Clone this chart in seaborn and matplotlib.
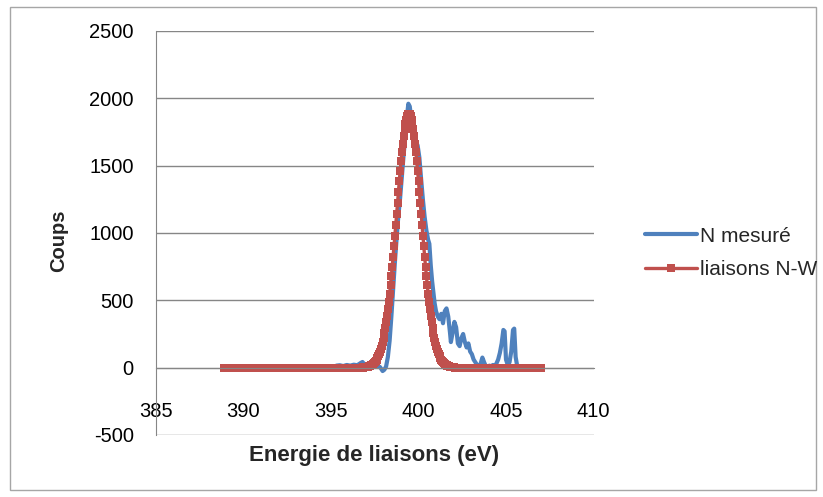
import numpy as np
import pandas as pd
import matplotlib.pyplot as plt
import seaborn as sns
from matplotlib.patches import Rectangle

# measured N 1s spectrum
mesure_ev = [395.3, 395.5, 395.7, 395.9, 396.1, 396.3, 396.5, 396.7, 396.8, 396.9,
             397.0, 397.2, 397.4, 397.6, 397.8, 397.95, 398.05, 398.15, 398.25, 398.35,
             398.45, 398.55, 398.65, 398.75, 398.85, 398.95, 399.05, 399.15, 399.25, 399.35,
             399.42, 399.5, 399.58, 399.66, 399.75, 399.85, 399.95, 400.05, 400.15, 400.25,
             400.35, 400.45, 400.55, 400.62, 400.7, 400.78, 400.85, 400.92, 401.0, 401.1,
             401.2, 401.3, 401.4, 401.5, 401.6, 401.7, 401.8, 401.85, 401.95, 402.05,
             402.15, 402.25, 402.35, 402.45, 402.55, 402.65, 402.75, 402.85, 402.95, 403.05,
             403.15, 403.25, 403.35, 403.45, 403.55, 403.65, 403.75, 403.85, 403.95, 404.05,
             404.15, 404.25, 404.35, 404.45, 404.55, 404.65, 404.75, 404.85, 404.92, 405.0,
             405.1, 405.2, 405.3, 405.4, 405.47, 405.55, 405.65]
mesure_coups = [15, 18, 12, 20, 15, 22, 18, 35, 42, 25,
                20, 28, 20, 15, 5, -25, -15, 10, 80, 200,
                380, 580, 780, 960, 1130, 1260, 1420, 1580, 1720, 1880,
                1960, 1940, 1860, 1780, 1720, 1680, 1650, 1560, 1400, 1250,
                1120, 1020, 950, 920, 760, 640, 560, 480, 420, 380,
                360, 400, 330, 420, 440, 380, 260, 190, 260, 340,
                300, 180, 160, 220, 250, 190, 150, 180, 120, 100,
                60, 40, 20, 10, 30, 75, 40, 10, 5, 15,
                10, 20, 15, 30, 60, 110, 180, 280, 270, 60,
                20, 40, 120, 280, 290, 80, 5]

# fitted N-W component, one point every 0.05 eV from 388.90 to 407.00
fit_ev = np.round(np.linspace(388.9, 407.0, 363), 2)
fit_gauche = [0] * 156          # flat baseline 388.90 -> 396.65
fit_pic = [0, 1, 1, 2, 2, 3, 4, 5, 7, 9, 11, 13, 17, 21, 26, 32, 39, 47, 57, 69,
           83, 99, 117, 138, 162, 190, 221, 255, 293, 336, 383, 434, 489, 548, 612,
           679, 751, 825, 902, 981, 1062, 1143, 1225, 1306, 1384, 1460, 1533, 1601,
           1664, 1720, 1769, 1810, 1842, 1866, 1880, 1885,
           1880, 1866, 1842, 1810, 1769, 1720, 1664, 1601, 1533, 1460, 1384, 1306,
           1225, 1143, 1062, 981, 902, 825, 751, 679, 612, 548, 489, 434, 383, 336,
           293, 255, 221, 190, 162, 138, 117, 99, 83, 69, 57, 47, 39, 32, 26, 21,
           17, 13, 11, 9, 7, 5, 4, 3, 2, 2, 1, 1, 0]
fit_droite = [0] * 96           # flat baseline 402.25 -> 407.00
fit_coups = fit_gauche + fit_pic + fit_droite

df_mes = pd.DataFrame({'ev': mesure_ev, 'coups': mesure_coups})
df_fit = pd.DataFrame({'ev': fit_ev, 'coups': fit_coups})

sns.set_style('white')
plt.rcParams['font.family'] = ['Liberation Sans', 'DejaVu Sans']
plt.rcParams['axes.unicode_minus'] = False

bleu = '#4F81BD'
rouge = '#C0504D'
gris = '#868686'

fig = plt.figure(figsize=(8.23, 4.97), dpi=100)
ax = fig.add_axes([156 / 823, 1 - 435 / 497, (593.5 - 156) / 823, (435 - 31) / 497])

sns.lineplot(data=df_mes, x='ev', y='coups', ax=ax, color=bleu, lw=3.0,
             label='N mesuré', sort=False)
sns.lineplot(data=df_fit, x='ev', y='coups', ax=ax, color=rouge, lw=2.4,
             marker='s', markersize=6, markeredgewidth=0, label='liaisons N-W', sort=False)

ax.set_xlim(385, 410)
ax.set_ylim(-500, 2500)
ax.set_xticks(range(385, 411, 5))
ax.set_yticks(range(-500, 2501, 500))
ax.grid(axis='y', color=gris, lw=1)
ax.grid(axis='x', visible=False)
ax.set_axisbelow(True)

for s in ['top', 'right']:
    ax.spines[s].set_visible(False)
ax.spines['left'].set_color(gris)
ax.spines['bottom'].set_color(gris)
ax.spines['bottom'].set_position(('data', 0))
ax.tick_params(axis='both', direction='out', color=gris, length=7, width=1,
               labelsize=14.5, labelcolor='black')
ax.tick_params(axis='x', pad=18)
ax.tick_params(axis='y', pad=9)

ax.set_xlabel('')
ax.set_ylabel('')
fig.text(374 / 823, 1 - 455 / 497, 'Energie de liaisons (eV)', ha='center', va='center',
         fontsize=16, fontweight='bold')
fig.text(59 / 823, 1 - 241 / 497, 'Coups', ha='center', va='center', rotation=90,
         fontsize=14.5, fontweight='bold')

ax.legend_.remove()
h, l = ax.get_legend_handles_labels()
fig.legend(h, l, loc='center left', bbox_to_anchor=(645 / 823, 1 - 253 / 497),
           frameon=False, fontsize=15, handlelength=2.5, handletextpad=0.15,
           labelspacing=0.7, borderaxespad=0, borderpad=0)

fig.patches.append(Rectangle((10 / 823, 1 - 490 / 497), 806 / 823, 483 / 497,
                             transform=fig.transFigure, fill=False, ec='#A6A6A6', lw=1))

fig.savefig('out.png', dpi=100)
